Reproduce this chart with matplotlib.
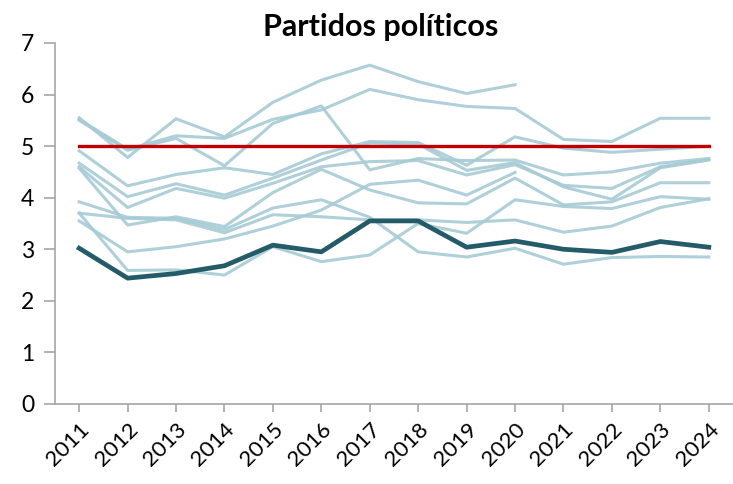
import numpy as np
import matplotlib
matplotlib.use("Agg")
import matplotlib.pyplot as plt

years = ["2011", "2012", "2013", "2014", "2015", "2016", "2017",
         "2018", "2019", "2020", "2021", "2022", "2023", "2024"]
nan = np.nan

# light series (other countries)
s_a = [5.55, 4.78, 5.53, 5.18, 5.85, 6.28, 6.57, 6.25, 6.02, 6.19, nan, nan, nan, nan]
s_b = [5.52, 4.94, 5.20, 5.15, 5.52, 5.70, 6.10, 5.90, 5.77, 5.73, 5.13, 5.09, 5.54, 5.54]
s_c = [5.50, 4.92, 5.15, 4.62, 5.44, 5.78, 4.54, 4.76, 4.72, 4.73, 4.44, 4.50, 4.67, 4.76]
s_d = [4.91, 4.23, 4.45, 4.58, 4.45, 4.85, 5.09, 5.07, 4.63, 5.18, 4.96, 4.88, 4.94, 5.00]
s_e = [4.67, 4.02, 4.27, 4.05, 4.38, 4.73, 5.06, 5.04, 4.53, 4.68, 4.21, 3.97, 4.58, 4.73]
s_f = [4.60, 3.81, 4.18, 3.99, 4.28, 4.60, 4.70, 4.72, 4.44, 4.64, 4.24, 4.18, 4.60, 4.74]
s_g = [4.57, 3.47, 3.63, 3.44, 4.10, 4.55, 4.15, 3.90, 3.88, 4.38, 3.86, 3.92, 4.29, 4.29]
s_h = [3.92, 3.62, 3.60, 3.38, 3.80, 3.96, 3.62, 2.95, 2.85, 3.02, 2.71, 2.84, 2.86, 2.85]
s_k = [3.70, 3.60, 3.57, 3.32, 3.67, 3.63, 3.57, 3.57, 3.52, 3.57, 3.33, 3.45, 3.81, 3.98]
s_j = [3.55, 2.95, 3.05, 3.20, 3.45, 3.76, 4.26, 4.34, 4.05, 4.49, nan, nan, nan, nan]
s_i = [3.70, 2.59, 2.60, 2.50, 3.05, 2.76, 2.89, 3.50, 3.31, 3.96, 3.83, 3.79, 4.02, 3.97]
light_series = [s_a, s_b, s_c, s_d, s_e, s_f, s_g, s_h, s_k, s_j, s_i]

# highlighted series
highlight = [3.02, 2.44, 2.53, 2.68, 3.08, 2.95, 3.55, 3.55, 3.04, 3.16, 3.00, 2.94, 3.15, 3.04]

# reference level
reference = [5.0] * len(years)

title = "Partidos políticos"
y_ticks = [0, 1, 2, 3, 4, 5, 6, 7]

plt.rcParams['font.family'] = ['Lato', 'DejaVu Sans']

fig = plt.figure(figsize=(7.33, 4.84), dpi=100)
ax = fig.add_axes([0.075, 0.1653, 0.925, 0.7459])

x = np.arange(len(years))
for s in light_series:
    ax.plot(x, s, color="#A6CBD5", lw=2.2, alpha=0.9, zorder=2)
ax.plot(x, reference, color="#C00000", lw=2.4, zorder=3)
ax.plot(x, highlight, color="#245B69", lw=3.4, zorder=4)

ax.set_xlim(-0.5, len(years) - 0.5)
ax.set_ylim(0, 7)
ax.set_xticks(x)
ax.set_xticklabels(years, rotation=45, ha="right", rotation_mode="anchor", fontsize=16)
ax.set_yticks(y_ticks)
ax.set_yticklabels([str(v) for v in y_ticks], fontsize=16.5)

for side in ["top", "right"]:
    ax.spines[side].set_visible(False)
for side in ["left", "bottom"]:
    ax.spines[side].set_color("#A6A6A6")
    ax.spines[side].set_linewidth(1.2)
ax.tick_params(axis="x", length=6, width=1.2, color="#A6A6A6", pad=5)
ax.tick_params(axis="y", length=8, width=1.2, color="#A6A6A6", pad=7)

fig.text(0.519, 0.945, title, ha="center", va="center", fontsize=22, fontweight="bold")

fig.savefig("out.png", dpi=100)
